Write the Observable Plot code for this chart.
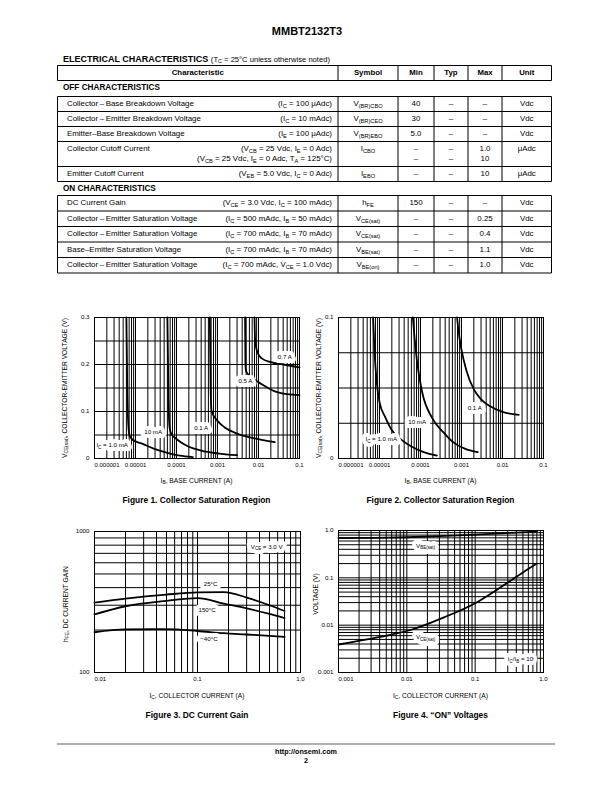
<!DOCTYPE html>
<html><head><meta charset="utf-8">
<script src="https://cdn.jsdelivr.net/npm/d3@7"></script>
<script src="https://cdn.jsdelivr.net/npm/@observablehq/plot@0.6"></script>
<style>
body{margin:0;background:#fff;}
#page{position:relative;width:612px;height:792px;overflow:hidden;font-family:"Liberation Sans",Arial,Helvetica,sans-serif;color:#000;background:#fff;}
.abs{position:absolute;white-space:nowrap;line-height:1;}
sub{font-size:72%;vertical-align:-0.28em;line-height:0;}
</style></head><body><div id="page"></div><script>
const FONT = '"Liberation Sans", Arial, Helvetica, sans-serif';

// ================= TABLE DATA =================
const tableHeaders = ["Characteristic", "Symbol", "Min", "Typ", "Max", "Unit"];
const offNames = ["Collector\u2009–\u2009Base Breakdown Voltage", "Collector\u2009–\u2009Emitter Breakdown Voltage", "Emitter–Base Breakdown Voltage", "Collector Cutoff Current", "Emitter Cutoff Current"];
const offConditions = [["(I<sub>C</sub> = 100 μAdc)"], ["(I<sub>C</sub> = 10 mAdc)"], ["(I<sub>E</sub> = 100 μAdc)"],
  ["(V<sub>CB</sub> = 25 Vdc, I<sub>E</sub> = 0 Adc)", "(V<sub>CB</sub> = 25 Vdc, I<sub>E</sub> = 0 Adc, T<sub>A</sub> = 125°C)"],
  ["(V<sub>EB</sub> = 5.0 Vdc, I<sub>C</sub> = 0 Adc)"]];
const offSymbols = ["V<sub>(BR)CBO</sub>", "V<sub>(BR)CEO</sub>", "V<sub>(BR)EBO</sub>", "I<sub>CBO</sub>", "I<sub>EBO</sub>"];
const offMin = [["40"], ["30"], ["5.0"], ["–", "–"], ["–"]];
const offTyp = [["–"], ["–"], ["–"], ["–", "–"], ["–"]];
const offMax = [["–"], ["–"], ["–"], ["1.0", "10"], ["10"]];
const offUnits = ["Vdc", "Vdc", "Vdc", "μAdc", "μAdc"];

const onNames = ["DC Current Gain", "Collector\u2009–\u2009Emitter Saturation Voltage", "Collector\u2009–\u2009Emitter Saturation Voltage", "Base–Emitter Saturation Voltage", "Collector\u2009–\u2009Emitter Saturation Voltage"];
const onConditions = [["(V<sub>CE</sub> = 3.0 Vdc, I<sub>C</sub> = 100 mAdc)"], ["(I<sub>C</sub> = 500 mAdc, I<sub>B</sub> = 50 mAdc)"], ["(I<sub>C</sub> = 700 mAdc, I<sub>B</sub> = 70 mAdc)"], ["(I<sub>C</sub> = 700 mAdc, I<sub>B</sub> = 70 mAdc)"], ["(I<sub>C</sub> = 700 mAdc, V<sub>CE</sub> = 1.0 Vdc)"]];
const onSymbols = ["h<sub>FE</sub>", "V<sub>CE(sat)</sub>", "V<sub>CE(sat)</sub>", "V<sub>BE(sat)</sub>", "V<sub>BE(on)</sub>"];
const onMin = [["150"], ["–"], ["–"], ["–"], ["–"]];
const onTyp = [["–"], ["–"], ["–"], ["–"], ["–"]];
const onMax = [["–"], ["0.25"], ["0.4"], ["1.1"], ["1.0"]];
const onUnits = ["Vdc", "Vdc", "Vdc", "Vdc", "Vdc"];

// ================= FIGURE 1 DATA (IB in A, VCE(sat) in V) =================
const fig1XTicks = [1e-6, 1e-5, 1e-4, 1e-3, 1e-2, 1e-1];
const fig1XTickLabels = ["0.000001", "0.00001", "0.0001", "0.001", "0.01", "0.1"];
const fig1YTicks = [0, 0.1, 0.2, 0.3];
const fig1YTickLabels = ["0", "0.1", "0.2", "0.3"];
const fig1YGrid = [0, 0.05, 0.1, 0.15, 0.2, 0.25, 0.3];
const f1_ib_1mA = [6.0e-6, 6.3e-6, 6.7e-6, 7.2e-6, 8.5e-6, 1.5e-5, 3e-5, 6e-5, 1.2e-4, 2.5e-4];
const f1_v_1mA = [0.3, 0.15, 0.07, 0.048, 0.04, 0.031, 0.02, 0.012, 0.006, 0.003];
const f1_ib_10mA = [6.0e-5, 6.4e-5, 6.8e-5, 7.5e-5, 9.5e-5, 1.3e-4, 2e-4, 4e-4, 1e-3, 3e-3];
const f1_v_10mA = [0.3, 0.12, 0.065, 0.052, 0.043, 0.034, 0.025, 0.017, 0.011, 0.007];
const f1_ib_100mA = [6.5e-4, 6.8e-4, 7.2e-4, 1e-3, 1.5e-3, 3e-3, 8e-3, 2.5e-2];
const f1_v_100mA = [0.3, 0.15, 0.1, 0.08, 0.066, 0.053, 0.043, 0.035];
const f1_ib_500mA = [4.7e-3, 4.8e-3, 5e-3, 7e-3, 1.2e-2, 2.5e-2, 5e-2, 0.1];
const f1_v_500mA = [0.3, 0.2, 0.185, 0.172, 0.158, 0.143, 0.137, 0.135];
const f1_ib_700mA = [8e-3, 8.2e-3, 8.6e-3, 9.5e-3, 1.2e-2, 2e-2, 4e-2, 0.1];
const f1_v_700mA = [0.3, 0.26, 0.24, 0.225, 0.213, 0.205, 0.2, 0.194];
const fig1LabelText = ["I_{C} = 1.0 mA", "10 mA", "0.1 A", "0.5 A", "0.7 A"];
const fig1LabelX = [2.7e-6, 2.7e-5, 4e-4, 4.8e-3, 4.4e-2];
const fig1LabelY = [0.028, 0.056, 0.064, 0.164, 0.216];

// ================= FIGURE 2 DATA =================
const fig2YTicks = [0, 0.1];
const fig2YTickLabels = ["0", "0.1"];
const fig2YGrid = [0, 0.025, 0.05, 0.075, 0.1];
const f2_ib_1mA = [7.0e-6, 7.6e-6, 8.5e-6, 1e-5, 1.4e-5, 2e-5, 3.5e-5, 6e-5, 1.2e-4, 2.5e-4];
const f2_v_1mA = [0.1, 0.075, 0.055, 0.04, 0.029, 0.02, 0.013, 0.0085, 0.0045, 0.002];
const f2_ib_10mA = [6.5e-5, 7.2e-5, 8.3e-5, 1.1e-4, 1.9e-4, 3.5e-4, 6e-4, 1.2e-3, 2.5e-3];
const f2_v_10mA = [0.1, 0.085, 0.068, 0.047, 0.029, 0.019, 0.012, 0.007, 0.0045];
const f2_ib_100mA = [7.8e-4, 8.5e-4, 1e-3, 1.3e-3, 2e-3, 3e-3, 5e-3, 1e-2, 2.5e-2];
const f2_v_100mA = [0.1, 0.09, 0.077, 0.063, 0.049, 0.042, 0.037, 0.033, 0.031];
const fig2LabelText = ["I_{C} = 1.0 mA", "10 mA", "0.1 A"];
const fig2LabelX = [1.1e-5, 8.3e-5, 2.1e-3];
const fig2LabelY = [0.014, 0.026, 0.036];

// ================= FIGURE 3 DATA (IC in A, hFE) =================
const fig3XTicks = [0.01, 0.1, 1];
const fig3XTickLabels = ["0.01", "0.1", "1.0"];
const fig3YTicks = [100, 1000];
const fig3YTickLabels = ["100", "1000"];
const f3_ic = [0.01, 0.02, 0.05, 0.1, 0.18, 0.3, 0.5, 0.7];
const f3_h25 = [313, 334, 357, 370, 372, 340, 300, 273];
const f3_h150 = [258, 295, 322, 337, 308, 285, 260, 243];
const f3_hm40 = [193, 202, 203, 197, 190, 186, 182, 179];
const fig3LabelText = ["25°C", "150°C", "−40°C", "V_{CE} = 3.0 V"];
const fig3LabelX = [0.134, 0.124, 0.129, 0.47];
const fig3LabelY = [425, 278, 173, 782];

// ================= FIGURE 4 DATA (IC in A, V) =================
const fig4XTicks = [0.001, 0.01, 0.1, 1];
const fig4XTickLabels = ["0.001", "0.01", "0.1", "1.0"];
const fig4YTicks = [0.001, 0.01, 0.1, 1];
const fig4YTickLabels = ["0.001", "0.01", "0.1", "1.0"];
const f4_ic_be = [0.001, 0.003, 0.01, 0.03, 0.1, 0.33, 0.8];
const f4_vbe = [0.69, 0.70, 0.72, 0.76, 0.82, 0.89, 0.95];
const f4_ic_ce = [0.001, 0.0037, 0.0113, 0.035, 0.1, 0.2, 0.33, 0.5, 0.8];
const f4_vce = [0.0039, 0.0055, 0.0079, 0.0146, 0.029, 0.054, 0.087, 0.13, 0.2];
const fig4LabelText = ["V_{BE(sat)}", "V_{CE(sat)}", "I_{C}/I_{B} = 10"];
const fig4LabelX = [0.0188, 0.0188, 0.46];
const fig4LabelY = [0.48, 0.0057, 0.0019];

// ================= HELPERS =================
const page = document.getElementById("page");
function addText(html, x, y, o = {}) {
  const d = document.createElement("div");
  d.className = "abs";
  d.innerHTML = html;
  d.style.left = x + "px"; d.style.top = y + "px";
  d.style.fontSize = (o.size || 7.5) + "px";
  if (o.bold) d.style.fontWeight = "bold";
  const tx = o.anchor === "middle" ? "-50%" : o.anchor === "end" ? "-100%" : "0";
  d.style.transform = o.rotate ? "translate(-50%,-50%) rotate(-90deg)" : `translate(${tx},-50%)`;
  page.appendChild(d);
  return d;
}
const svgNS = "http://www.w3.org/2000/svg";
const overlay = document.createElementNS(svgNS, "svg");
overlay.setAttribute("width", 612); overlay.setAttribute("height", 792);
overlay.style.position = "absolute"; overlay.style.left = "0"; overlay.style.top = "0";
page.appendChild(overlay);
function seg(x1, y1, x2, y2, w = 1, c = "#000") {
  const l = document.createElementNS(svgNS, "line");
  l.setAttribute("x1", x1); l.setAttribute("y1", y1); l.setAttribute("x2", x2); l.setAttribute("y2", y2);
  l.setAttribute("stroke", c); l.setAttribute("stroke-width", w);
  overlay.appendChild(l);
}

// ================= TITLE + TABLE =================
addText("MMBT2132T3", 307, 31, {size: 11, bold: true, anchor: "middle"});
addText('<b style="font-size:9px">ELECTRICAL CHARACTERISTICS</b> <span style="font-size:7.6px">(T<sub>C</sub> = 25°C unless otherwise noted)</span>', 63, 59, {size: 9});

const colEdges = [57.5, 338, 398, 434, 468, 502, 551.5];
const colCenter = i => (colEdges[i] + colEdges[i + 1]) / 2;
function boxFrame(top, bottoms) {
  const bottom = bottoms[bottoms.length - 1];
  seg(colEdges[0], top, colEdges[6], top);
  bottoms.forEach(b => seg(colEdges[0], b, colEdges[6], b));
  colEdges.forEach(x => seg(x, top, x, bottom));
}
boxFrame(65.5, [80.5]);
tableHeaders.forEach((h, i) => addText(h, colCenter(i), 73, {size: 7.8, bold: true, anchor: "middle"}));

const TS = 7.9;
function section(title, titleY, top, rowH, names, conds, syms, mins, typs, maxs, units) {
  addText(title, 63, titleY, {size: 8.2, bold: true});
  let y = top; const bottoms = [];
  names.forEach((n, r) => {
    const nLines = conds[r].length;
    const h = nLines === 2 ? 25 : rowH;
    const lineY = nLines === 2 ? [y + 7.5, y + 17] : [y + h / 2];
    addText(n, 67, lineY[0], {size: TS});
    conds[r].forEach((c, k) => addText(c, 332, lineY[k], {size: TS, anchor: "end"}));
    addText(syms[r], colCenter(1), lineY[0], {size: TS, anchor: "middle"});
    mins[r].forEach((v, k) => addText(v, colCenter(2), lineY[k], {size: TS, anchor: "middle"}));
    typs[r].forEach((v, k) => addText(v, colCenter(3), lineY[k], {size: TS, anchor: "middle"}));
    maxs[r].forEach((v, k) => addText(v, colCenter(4), lineY[k], {size: TS, anchor: "middle"}));
    addText(units[r], colCenter(5), lineY[0], {size: TS, anchor: "middle"});
    y += h; bottoms.push(y);
  });
  boxFrame(top, bottoms);
}
section("OFF CHARACTERISTICS", 88, 96.5, 15, offNames, offConditions, offSymbols, offMin, offTyp, offMax, offUnits);
section("ON CHARACTERISTICS", 189, 195.5, 15.5, onNames, onConditions, onSymbols, onMin, onTyp, onMax, onUnits);

// ================= CHARTS =================
function subify(svg, fs) {
  svg.querySelectorAll("text").forEach(t => {
    const s = t.textContent;
    if (!s.includes("_{")) return;
    t.textContent = "";
    const parts = s.split(/_\{([^}]*)\}/);
    const d = (fs * 0.3).toFixed(2);
    let shifted = false;
    parts.forEach((p, i) => {
      if (p === "") return;
      const ts = document.createElementNS(svgNS, "tspan");
      ts.textContent = p;
      if (i % 2 === 1) { ts.setAttribute("font-size", (fs * 0.72).toFixed(2)); ts.setAttribute("dy", d); shifted = true; }
      else if (shifted) { ts.setAttribute("dy", -d); shifted = false; }
      t.appendChild(ts);
    });
  });
}
const zipXY = (xs, ys) => xs.map((x, i) => ({x, y: ys[i]}));
const ticksOf = (vals, labels) => vals.map((v, i) => ({v, label: labels[i]}));

function buildChart(cfg) {
  const mL = 40, mR = 10, mT = 8, mB = 16;
  const LFS = 6.2;
  const xt = ticksOf(cfg.xTicks, cfg.xTickLabels);
  const yt = ticksOf(cfg.yTicks, cfg.yTickLabels);
  const labels = cfg.labelText.map((t, i) => ({t, x: cfg.labelX[i], y: cfg.labelY[i]}));
  const plot = Plot.plot({
    width: mL + cfg.fw + mR, height: mT + cfg.fh + mB,
    marginLeft: mL, marginRight: mR, marginTop: mT, marginBottom: mB,
    x: {...cfg.x, axis: null}, y: {...cfg.y, axis: null},
    style: {fontFamily: FONT, background: "transparent", overflow: "visible", color: "#000"},
    marks: [
      Plot.ruleX(cfg.xGrid, {stroke: "#000", strokeWidth: 1}),
      Plot.ruleY(cfg.yGrid, {stroke: "#000", strokeWidth: 1}),
      ...cfg.curves.map(c => Plot.line(zipXY(c[0], c[1]), {x: "x", y: "y", stroke: "#000", strokeWidth: 1.8, curve: "monotone-x"})),
      Plot.text(labels, {x: "x", y: "y", text: "t", fontSize: LFS, fill: "#fff", stroke: "#fff", strokeWidth: 8, strokeLinejoin: "round"}),
      Plot.text(labels, {x: "x", y: "y", text: "t", fontSize: LFS, fill: "#000"}),
      Plot.frame({stroke: "#000", strokeWidth: 1}),
      Plot.text(xt.slice(0, 1), {x: "v", text: "label", frameAnchor: "bottom", dy: 8, textAnchor: "start", fontSize: 6, fill: "#000"}),
      Plot.text(xt.slice(1), {x: "v", text: "label", frameAnchor: "bottom", dy: 8, fontSize: 6, fill: "#000"}),
      Plot.text(yt, {y: "v", text: "label", frameAnchor: "left", dx: -5, textAnchor: "end", fontSize: 6.2, fill: "#000"})
    ]
  });
  subify(plot, LFS);
  const wrap = document.createElement("div");
  wrap.style.position = "absolute";
  wrap.style.left = (cfg.fx - mL) + "px";
  wrap.style.top = (cfg.fy - mT) + "px";
  wrap.appendChild(plot);
  page.appendChild(wrap);
}

const logGrid = dom => d3.scaleLog().domain(dom).ticks();

buildChart({
  fx: 94, fy: 317, fw: 205, fh: 141,
  x: {type: "log", domain: [1e-6, 0.1]}, y: {domain: [0, 0.3]},
  xGrid: logGrid([1e-6, 0.1]), yGrid: fig1YGrid,
  xTicks: fig1XTicks, xTickLabels: fig1XTickLabels, yTicks: fig1YTicks, yTickLabels: fig1YTickLabels,
  curves: [[f1_ib_1mA, f1_v_1mA], [f1_ib_10mA, f1_v_10mA], [f1_ib_100mA, f1_v_100mA], [f1_ib_500mA, f1_v_500mA], [f1_ib_700mA, f1_v_700mA]],
  labelText: fig1LabelText, labelX: fig1LabelX, labelY: fig1LabelY
});
buildChart({
  fx: 338, fy: 317, fw: 205, fh: 141,
  x: {type: "log", domain: [1e-6, 0.1]}, y: {domain: [0, 0.1]},
  xGrid: logGrid([1e-6, 0.1]), yGrid: fig2YGrid,
  xTicks: fig1XTicks, xTickLabels: fig1XTickLabels, yTicks: fig2YTicks, yTickLabels: fig2YTickLabels,
  curves: [[f2_ib_1mA, f2_v_1mA], [f2_ib_10mA, f2_v_10mA], [f2_ib_100mA, f2_v_100mA]],
  labelText: fig2LabelText, labelX: fig2LabelX, labelY: fig2LabelY
});
buildChart({
  fx: 94, fy: 531, fw: 206, fh: 141,
  x: {type: "log", domain: [0.01, 1]}, y: {type: "log", domain: [100, 1000]},
  xGrid: logGrid([0.01, 1]), yGrid: logGrid([100, 1000]),
  xTicks: fig3XTicks, xTickLabels: fig3XTickLabels, yTicks: fig3YTicks, yTickLabels: fig3YTickLabels,
  curves: [[f3_ic, f3_h25], [f3_ic, f3_h150], [f3_ic, f3_hm40]],
  labelText: fig3LabelText, labelX: fig3LabelX, labelY: fig3LabelY
});
buildChart({
  fx: 338, fy: 530, fw: 205, fh: 142,
  x: {type: "log", domain: [0.001, 1]}, y: {type: "log", domain: [0.001, 1]},
  xGrid: logGrid([0.001, 1]), yGrid: logGrid([0.001, 1]),
  xTicks: fig4XTicks, xTickLabels: fig4XTickLabels, yTicks: fig4YTicks, yTickLabels: fig4YTickLabels,
  curves: [[f4_ic_be, f4_vbe], [f4_ic_ce, f4_vce]],
  labelText: fig4LabelText, labelX: fig4LabelX, labelY: fig4LabelY
});

// axis titles and captions
const yTitle1 = "V<sub>CE(sat)</sub>, COLLECTOR-EMITTER VOLTAGE (V)";
addText(yTitle1, 65, 387.5, {size: 6.7, rotate: true});
addText(yTitle1, 319, 387.5, {size: 6.7, rotate: true});
addText("h<sub>FE</sub>, DC CURRENT GAIN", 66, 604, {size: 6.7, rotate: true});
addText("VOLTAGE (V)", 316, 594, {size: 6.7, rotate: true});
addText("I<sub>B</sub>, BASE CURRENT (A)", 196.5, 481, {size: 6.7, anchor: "middle"});
addText("I<sub>B</sub>, BASE CURRENT (A)", 440.5, 481, {size: 6.7, anchor: "middle"});
addText("I<sub>C</sub>, COLLECTOR CURRENT (A)", 197, 696, {size: 6.7, anchor: "middle"});
addText("I<sub>C</sub>, COLLECTOR CURRENT (A)", 440.5, 696, {size: 6.7, anchor: "middle"});
addText("Figure 1. Collector Saturation Region", 196.5, 500, {size: 8.4, bold: true, anchor: "middle"});
addText("Figure 2. Collector Saturation Region", 440.5, 500, {size: 8.4, bold: true, anchor: "middle"});
addText("Figure 3. DC Current Gain", 197, 715, {size: 8.4, bold: true, anchor: "middle"});
addText("Figure 4. “ON” Voltages", 440.5, 715, {size: 8.4, bold: true, anchor: "middle"});

// footer
seg(57, 744, 555, 744, 2, "#b0b0b0");
addText("http://onsemi.com", 306, 752, {size: 7.2, bold: true, anchor: "middle"});
addText("2", 306, 761, {size: 7.2, bold: true, anchor: "middle"});
</script></body></html>
